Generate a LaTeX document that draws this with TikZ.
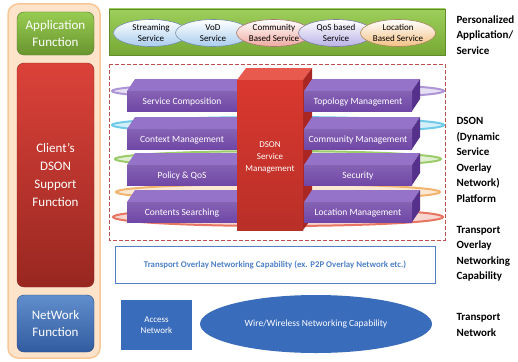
\documentclass[tikz,border=0pt]{standalone}
\usepackage{fontspec}
\setmainfont{Carlito}
\usetikzlibrary{shapes.geometric}
\tikzset{>=latex}

\definecolor{peach}{HTML}{FCE3CA}
\definecolor{peachedge}{HTML}{F8C795}
\definecolor{bandgreen}{HTML}{8CC63E}
\definecolor{barfront}{HTML}{7047A6}
\definecolor{bartop}{HTML}{9473C8}
\definecolor{barside}{HTML}{56318C}
\definecolor{dsonred}{HTML}{D9382F}
\definecolor{dsontop}{HTML}{E85A4E}
\definecolor{dsonside}{HTML}{A92622}
\definecolor{dashred}{HTML}{C0504D}
\definecolor{tblue}{HTML}{4F81C7}
\definecolor{netblue}{HTML}{3A6CBC}
\definecolor{svcblue}{HTML}{A9CDEE}
\definecolor{svcpink}{HTML}{EFA9A0}
\definecolor{svclav}{HTML}{B9B2E6}
\definecolor{svcpeach}{HTML}{F4C184}
\definecolor{ringlav}{HTML}{AE96D6}
\definecolor{ringcyan}{HTML}{6FCBE8}
\definecolor{ringgreen}{HTML}{9BCB6A}
\definecolor{ringorange}{HTML}{F1B46E}
\definecolor{ringred}{HTML}{E67561}

\tikzset{
  sidebox/.style={rounded corners=7pt, minimum width=77pt, inner sep=0pt, text=white,
    align=center, font=\fontsize{13}{17}\selectfont},
  svc/.style={ellipse, minimum width=75pt, minimum height=27pt, inner sep=0pt, align=center,
    top color=white, bottom color=#1, draw=#1!70!black, line width=.6pt,
    font=\fontsize{9}{10.5}\selectfont},
  ring/.style={draw=#1, fill=#1!30, line width=2pt},
  bartext/.style={text=white, font=\fontsize{9.5}{11}\selectfont},
  layer/.style={font=\bfseries\fontsize{11}{15.5}\selectfont, align=left, anchor=west}
}

\begin{document}
\begin{tikzpicture}[x=1pt,y=-1pt]
	\useasboundingbox (0,0) rectangle (518,361);

	% left column
	\draw[fill=peach, draw=peachedge, line width=1.5pt, rounded corners=10pt] (8,4) rectangle (100,358);
	\node[sidebox, minimum height=43pt, top color=bandgreen!90!white, bottom color=bandgreen!75!black,
		draw=bandgreen!60!black] (appfn) at (55.5,33.5) {Application\\Function};
	\node[sidebox, minimum height=224pt, top color=dsonred!95!white, bottom color=dsonred!70!black,
		draw=dsonred!70!black, font=\fontsize{13}{18}\selectfont] (clientfn) at (55.5,175) {Client's\\DSON\\Support\\Function};
	\node[sidebox, minimum height=57pt, top color=tblue!90!white, bottom color=netblue!85!black,
		draw=netblue!70!black] (netfn) at (55.5,323.5) {NetWork\\Function};

	% application services
	\draw[top color=bandgreen!85!white, bottom color=bandgreen!85!black, draw=bandgreen!70!black, line width=.8pt] (109,9) rectangle (445,55);
	\node[svc=svcblue] (stream) at (151,33) {Streaming\\Service};
	\node[svc=svcblue] (vod) at (213,33) {VoD\\Service};
	\node[svc=svcpink] (commsvc) at (274,33) {Community\\Based Service};
	\node[svc=svclav] (qossvc) at (336,33) {QoS based\\Service};
	\node[svc=svcpeach] (locsvc) at (398,33) {Location\\Based Service};

	% DSON platform
	\draw[dashed, dash pattern=on 4pt off 2pt, draw=dashred, line width=1pt] (109,64) rectangle (445,240);
	\draw[ring=ringlav] (278,91) ellipse (166pt and 8pt);
	\draw[ring=ringcyan] (278,125) ellipse (166pt and 8pt);
	\draw[ring=ringgreen] (278,159) ellipse (163pt and 8pt);
	\draw[ring=ringorange] (278,192) ellipse (162pt and 8pt);
	\draw[ring=ringred] (278,217) ellipse (165pt and 9pt);

	\foreach \yt/\txt [count=\i] in {91/Service Composition, 129/Context Management,
		165/Policy \& QoS, 202/Contents Searching}{
		\fill[bartop] (127,\yt) -- ++(8,-12) -- (250,\yt-12) -- (240,\yt) -- cycle;
		\shade[top color=barfront!85!white, bottom color=barfront] (127,\yt) rectangle (240,\yt+20);
		\node[bartext] (left\i) at (182,\yt+11) {\txt};
	}

	\fill[dsontop] (237,80) -- (246,68) -- (312,68) -- (303,80) -- cycle;
	\fill[dsonside] (303,80) -- (312,68) -- (312,218) -- (303,230) -- cycle;
	\shade[top color=dsonred, bottom color=dsonred!85!black] (237,80) rectangle (303,230);
	\node[text=white, align=center, font=\fontsize{9}{12}\selectfont] (dsonsm) at (270,157) {DSON\\Service\\Management};

	\foreach \yt/\txt [count=\i] in {91/Topology Management, 129/Community Management,
		165/Security, 202/Location Management}{
		\fill[bartop] (304,\yt) -- ++(8,-12) -- (420,\yt-12) -- (412,\yt) -- cycle;
		\fill[barside] (412,\yt) -- (420,\yt-12) -- (420,\yt+8) -- (412,\yt+20) -- cycle;
		\shade[top color=barfront!85!white, bottom color=barfront] (304,\yt) rectangle (412,\yt+20);
		\node[bartext] (right\i) at (358,\yt+11) {\txt};
	}

	% transport
	\node[draw=tblue, line width=1pt, fill=white, minimum width=320pt, minimum height=37pt,
		text=tblue, font=\bfseries\fontsize{8.8}{10}\selectfont] (tonc) at (275,264.5)
		{Transport Overlay Networking Capability (ex. P2P Overlay Network etc.)};
	\node[fill=netblue, minimum width=71pt, minimum height=50pt, inner sep=0pt, align=center,
		text=white, font=\fontsize{9}{11.5}\selectfont] (access) at (156.5,325) {Access\\Network};
	\node[ellipse, fill=netblue, minimum width=232pt, minimum height=58pt, text=white,
		font=\fontsize{9.5}{11}\selectfont] (wire) at (316,324) {Wire/Wireless Networking Capability};

	% layer names
	\node[layer] (lpas) at (453,35) {Personalized\\Application/\\Service};
	\node[layer] (ldson) at (453,160) {DSON\\(Dynamic\\Service\\Overlay\\Network)\\Platform};
	\node[layer] (ltonc) at (453,254) {Transport\\Overlay\\Networking\\Capability};
	\node[layer] (ltn) at (453,325) {Transport\\Network};

\end{tikzpicture}
\end{document}
